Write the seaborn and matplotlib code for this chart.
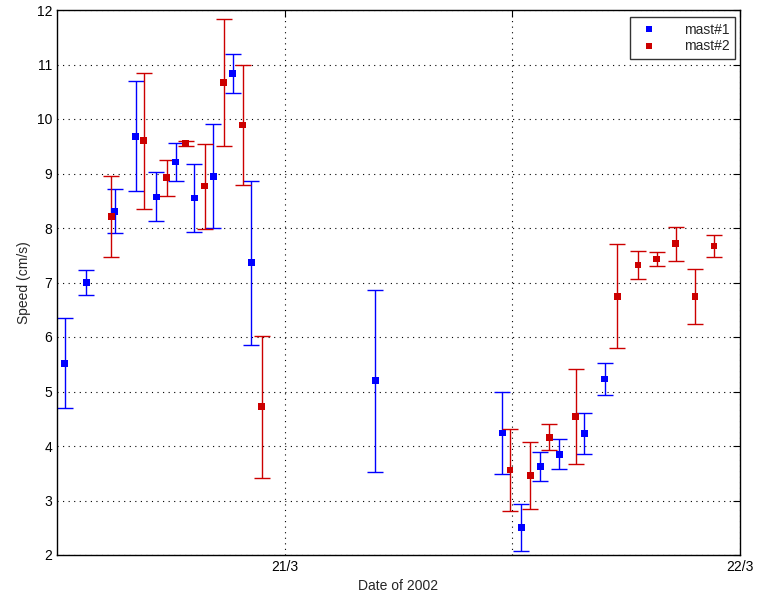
import numpy as np
import pandas as pd
import matplotlib
matplotlib.use("Agg")
import matplotlib.pyplot as plt
import matplotlib.dates as mdates
from matplotlib.lines import Line2D
import seaborn as sns

# ---- data (hours relative to 21/3/2002 00:00) ----
m1_hours = [-11.6, -10.45, -8.95, -7.86, -6.77, -5.75, -4.77, -3.77, -2.74, -1.76,
            4.78, 11.48, 12.48, 13.48, 14.48, 15.79, 16.86]
m1_speed = [5.52, 7.00, 8.31, 9.68, 8.57, 9.21, 8.55, 8.95, 10.84, 7.36,
            5.20, 4.24, 2.51, 3.62, 3.85, 4.23, 5.23]
m1_err = [0.83, 0.23, 0.40, 1.01, 0.45, 0.35, 0.63, 0.95, 0.36, 1.50,
          1.67, 0.75, 0.43, 0.27, 0.28, 0.37, 0.30]

m2_hours = [-9.13, -7.42, -6.22, -5.22, -4.22, -3.22, -2.22, -1.20,
            11.88, 12.94, 13.94, 15.33, 17.54, 18.62, 19.62, 20.62, 21.63, 22.63]
m2_speed = [8.21, 9.60, 8.92, 9.55, 8.77, 10.67, 9.89, 4.72,
            3.56, 3.46, 4.16, 4.54, 6.75, 7.32, 7.43, 7.71, 6.74, 7.67]
m2_err = [0.75, 1.25, 0.33, 0.05, 0.78, 1.16, 1.10, 1.30,
          0.75, 0.62, 0.24, 0.87, 0.95, 0.25, 0.13, 0.31, 0.50, 0.20]

series_names = ["mast#1", "mast#2"]
series_colors = ["#0000ff", "#cc0000"]
x_tick_labels = ["21/3", "", "22/3"]

base = pd.Timestamp("2002-03-21")
df1 = pd.DataFrame({"date": base + pd.to_timedelta(m1_hours, unit="h"),
                    "speed": m1_speed, "err": m1_err, "mast": series_names[0]})
df2 = pd.DataFrame({"date": base + pd.to_timedelta(m2_hours, unit="h"),
                    "speed": m2_speed, "err": m2_err, "mast": series_names[1]})
df = pd.concat([df1, df2], ignore_index=True)

sns.set_style("white")
plt.rcParams["font.family"] = ["Liberation Sans", "DejaVu Sans"]

fig = plt.figure(figsize=(7.6, 5.99), dpi=100)
ax = fig.add_axes([57 / 760, 1 - 555 / 599, (740 - 57) / 760, (555 - 10) / 599])

for d, c in zip([df1, df2], series_colors):
    ax.errorbar(d["date"], d["speed"], yerr=d["err"], fmt="none",
                ecolor=c, elinewidth=1.0, capsize=5.5, capthick=1.0, zorder=2)

sns.scatterplot(data=df, x="date", y="speed", hue="mast",
                palette=dict(zip(series_names, series_colors)),
                marker="s", s=24, edgecolor="none", linewidth=0,
                legend=False, ax=ax, zorder=3)

ax.set_xlim(base - pd.Timedelta(hours=12), base + pd.Timedelta(hours=24))
ax.set_ylim(2, 12)
ticks = [base, base + pd.Timedelta(hours=12), base + pd.Timedelta(hours=24)]
ax.set_xticks([mdates.date2num(t) for t in ticks])
ax.set_xticklabels(x_tick_labels)
ax.set_yticks(range(2, 13))

ax.grid(True, linestyle=(0, (1, 4)), color="black", linewidth=0.8)
ax.tick_params(direction="in", top=True, right=True, length=5, width=0.8,
               labelsize=10, colors="black")
for s in ax.spines.values():
    s.set_color("black")
    s.set_linewidth(1.0)

ax.set_xlabel("Date of 2002", fontsize=10)
ax.set_ylabel("Speed (cm/s)", fontsize=10)

handles = [Line2D([0], [0], marker="s", linestyle="none", color=c,
                  markersize=4.5, markeredgewidth=0) for c in series_colors]
leg = ax.legend(handles, series_names, loc="upper right", fontsize=10,
                frameon=True, fancybox=False, borderpad=0.4,
                handletextpad=1.5, labelspacing=0.2, borderaxespad=0,
                bbox_to_anchor=(0.9927, 0.987))
leg.get_frame().set_edgecolor("black")
leg.get_frame().set_linewidth(1.0)

fig.savefig("out.png", dpi=100)
